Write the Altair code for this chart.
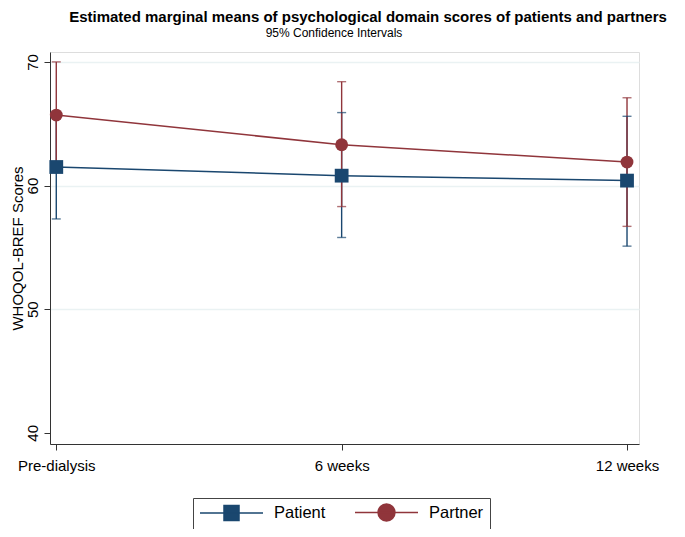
import json
import altair as alt
import pandas as pd

timepoints = ["Pre-dialysis", "6 weeks", "12 weeks"]
groups = ["Patient", "Partner"]
patient_mean = [61.5, 60.8, 60.4]
patient_lo = [57.3, 55.8, 55.1]
patient_hi = [65.7, 65.9, 65.6]
partner_mean = [65.7, 63.3, 61.9]
partner_lo = [61.4, 58.3, 56.7]
partner_hi = [70.0, 68.4, 67.1]
y_ticks = [40, 50, 60, 70]

title_text = "Estimated marginal means of psychological domain scores of patients and partners"
subtitle_text = "95% Confidence Intervals"

rows = []
for g, m, lo, hi in [("Patient", patient_mean, patient_lo, patient_hi),
                     ("Partner", partner_mean, partner_lo, partner_hi)]:
    for i, t in enumerate(timepoints):
        rows.append({"t": i, "label": t, "group": g, "mean": m[i], "lo": lo[i], "hi": hi[i]})
df = pd.DataFrame(rows)

FONT = "Liberation Sans"
colors = ["#1a476f", "#90353b"]
color_scale = alt.Scale(domain=groups, range=colors)

x_enc = alt.X(
    "t:Q",
    scale=alt.Scale(domain=[-0.022, 2.042], nice=False, zero=False),
    axis=alt.Axis(
        values=list(range(len(timepoints))),
        labelExpr=json.dumps(timepoints) + "[datum.value]",
        title=None, grid=False, domainColor="#333333", tickColor="#333333",
        tickSize=6, labelFontSize=15, labelPadding=8, labelColor="black",
        labelFont=FONT, labelFlush=False,
    ),
)
y_scale = alt.Scale(domain=[39.1, 70.8], nice=False, zero=False)
y_axis = alt.Axis(
    values=y_ticks, title="WHOQOL-BREF Scores", titleFontSize=15, titleFontWeight="normal",
    titleFont=FONT, titleColor="black", titleX=-27.5, titleY=196, titleAngle=270,
    titleAlign="center", titleBaseline="alphabetic",
    labelAngle=270, labelAlign="center", labelBaseline="bottom",
    labelFontSize=15, labelFont=FONT, labelColor="black", labelPadding=4,
    tickSize=6, tickColor="#333333", domainColor="#333333",
    grid=True, gridColor="#eaf2f3", gridWidth=1.5,
    gridOpacity={"condition": {"test": "datum.value === 40", "value": 0}, "value": 1},
)

base = alt.Chart(df)
color_nl = alt.Color("group:N", scale=color_scale, legend=None)

rules = base.mark_rule(strokeWidth=1.4).encode(
    x=x_enc, y=alt.Y("lo:Q", scale=y_scale, axis=y_axis), y2="hi:Q", color=color_nl
)
cap_lo = base.mark_tick(orient="horizontal", size=9, thickness=1.4).encode(
    x="t:Q", y="lo:Q", color=color_nl
)
cap_hi = base.mark_tick(orient="horizontal", size=9, thickness=1.4).encode(
    x="t:Q", y="hi:Q", color=color_nl
)
lines = base.mark_line(strokeWidth=1.5).encode(
    x="t:Q", y="mean:Q", color=color_nl, detail="group:N"
)
pts_pat = base.transform_filter(alt.datum.group == "Patient").mark_point(
    shape="square", filled=True, size=190, opacity=1
).encode(x="t:Q", y="mean:Q", color=color_nl)
pts_par = base.transform_filter(alt.datum.group == "Partner").mark_point(
    shape="circle", filled=True, size=165, opacity=1
).encode(x="t:Q", y="mean:Q", color=color_nl)

sq_path = "M-1,0H7.4M2.2,-1H4.2V1H2.2Z"
ci_path = "M-1,0H7.4M2.07,0A1.13,1.13,0,1,0,4.33,0A1.13,1.13,0,1,0,2.07,0Z"
legend = alt.Legend(
    orient="none", legendX=143, legendY=446, direction="horizontal", title=None,
    labelFontSize=16.5, labelFont=FONT, labelColor="black", symbolSize=225,
    symbolStrokeWidth=1.5, labelOffset=58, columnPadding=26, padding=6,
    strokeColor="#444444", fillColor="white", symbolOpacity=1,
)
leg = base.transform_filter("false").mark_point(filled=True, opacity=1).encode(
    x="t:Q", y="mean:Q",
    fill=alt.Fill("group:N", scale=alt.Scale(domain=groups, range=colors), legend=legend),
    stroke=alt.Stroke("group:N", scale=alt.Scale(domain=groups, range=colors), legend=legend),
    shape=alt.Shape("group:N", scale=alt.Scale(domain=groups, range=[sq_path, ci_path]), legend=legend),
)

title_mark = alt.Chart(pd.DataFrame({"s": [title_text]})).mark_text(
    font=FONT, fontSize=15, fontWeight="bold", align="center", baseline="alphabetic", color="black"
).encode(text="s:N", x=alt.value(318), y=alt.value(-30))
sub_mark = alt.Chart(pd.DataFrame({"s": [subtitle_text]})).mark_text(
    font=FONT, fontSize=12, align="center", baseline="alphabetic", color="black"
).encode(text="s:N", x=alt.value(284), y=alt.value(-15.5))

chart = alt.layer(
    rules, cap_lo, cap_hi, lines, pts_pat, pts_par, leg, title_mark, sub_mark
).resolve_legend(color="independent").properties(
    width=589, height=392,
    autosize=alt.AutoSizeParams(type="none"),
    padding={"left": 42, "top": 44, "right": 38, "bottom": 85},
).configure_view(stroke=None).configure(background="white")

chart.save("out.html", embed_options={"renderer": "svg", "actions": False})
